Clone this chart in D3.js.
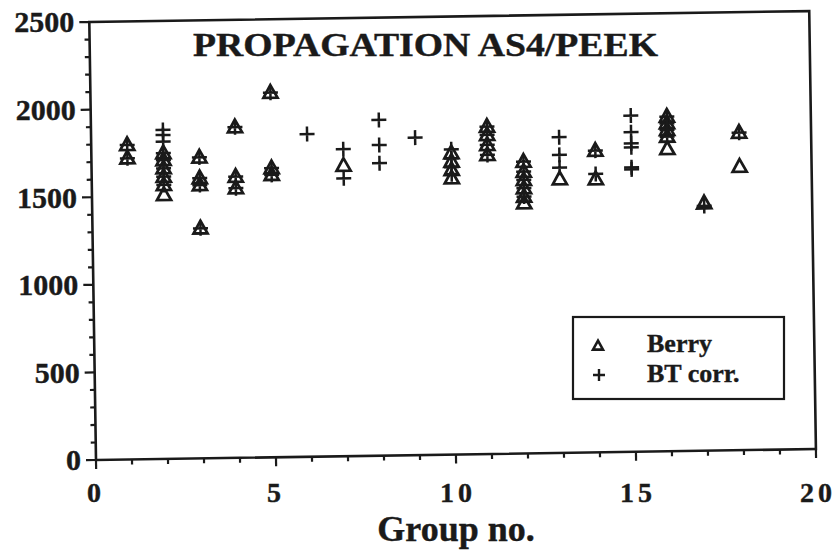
<!DOCTYPE html>
<html>
<head>
<meta charset="utf-8">
<script src="https://cdn.jsdelivr.net/npm/d3@7/dist/d3.min.js"></script>
<style>
  html, body { margin: 0; padding: 0; background: #fff; }
  svg { display: block; }
  text { font-family: "Liberation Serif", "Times New Roman", serif; font-weight: bold; fill: #1a1a1a; stroke: #1a1a1a; stroke-width: 0.4px; }
</style>
</head>
<body>
<svg id="chart" width="836" height="550"></svg>
<script>
// ---------- data ----------
const title = "PROPAGATION AS4/PEEK";
const xLabel = "Group no.";
const seriesNames = ["Berry", "BT corr."];
const xTicks = [0, 5, 10, 15, 20];
const yTicks = [0, 500, 1000, 1500, 2000, 2500];

const berryGroup = [1,1, 2,2,2,2,2,2, 3,3,3,3, 4,4,4, 5,5,5, 7, 10,10,10,10, 11,11,11,11, 12,12,12,12,12,12, 13, 14,14, 16,16,16,16,16, 17, 18,18];
const berryValue = [1795,1719, 1745,1706,1659,1611,1564,1507, 1718,1599,1560,1313, 1887,1605,1539, 2081,1650,1612, 1658, 1720,1672,1624,1577, 1868,1821,1764,1707, 1665,1608,1561,1514,1466,1428, 1562, 1722,1559, 1910,1872,1834,1796,1725, 1412, 1812,1618];

const btGroup = [1,1, 2,2,2,2,2,2,2,2, 3,3,3,3, 4,4,4, 5,5,5, 6, 7,7, 8,8,8, 9, 10,10,10,10, 11,11,11,11, 12,12,12,12,12, 13,13,13, 14,14, 15,15,15,15,15,15, 16,16,16,16, 17, 18];
const btValue = [1795,1719, 1878,1849,1811,1745,1706,1659,1611,1564, 1718,1599,1560,1313, 1887,1605,1539, 2081,1650,1612, 1842, 1752,1586, 1916,1773,1669, 1812, 1742,1690,1640,1600, 1868,1821,1764,1707, 1665,1608,1561,1514,1466, 1802,1701,1628, 1722,1589, 1919,1824,1761,1738,1624,1612, 1910,1872,1834,1796, 1397, 1812];

// ---------- layout ----------
const svg = d3.select("#chart");
const ox = 96, oy = 460;          // bottom-left corner of the plot frame
const W = 720, H = 438;
const angle = -0.875;             // slight tilt of the scanned frame (degrees)
const rad = angle * Math.PI / 180;
const ink = "#1a1a1a";

const x = d3.scaleLinear().domain([0, 20]).range([ox, ox + W]);
const y = d3.scaleLinear().domain([0, 2500]).range([oy, oy - H]);

function rot(px, py) {
  const dx = px - ox, dy = py - oy;
  return [ox + dx * Math.cos(rad) - dy * Math.sin(rad), oy + dx * Math.sin(rad) + dy * Math.cos(rad)];
}

const plot = svg.append("g").attr("transform", `rotate(${angle},${ox},${oy})`);

// frame
plot.append("rect")
  .attr("x", x(0)).attr("y", y(2500))
  .attr("width", x(20) - x(0)).attr("height", y(0) - y(2500))
  .attr("fill", "none").attr("stroke", ink).attr("stroke-width", 2.6);

// y ticks (major every 500, minor every 100)
const yMinor = d3.range(0, 2501, 100);
plot.selectAll(".ytick").data(yMinor).join("line")
  .attr("x1", x(0)).attr("x2", d => x(0) - (d % 500 === 0 ? 10 : 5))
  .attr("y1", d => y(d)).attr("y2", d => y(d))
  .attr("stroke", ink).attr("stroke-width", 2.2);

// x ticks (major every 5, minor every 1)
const xMinor = d3.range(0, 21, 1);
plot.selectAll(".xtick").data(xMinor).join("line")
  .attr("x1", d => x(d)).attr("x2", d => x(d))
  .attr("y1", y(0)).attr("y2", d => y(0) + (d % 5 === 0 ? 9 : 5))
  .attr("stroke", ink).attr("stroke-width", 2.2);

// marker generators
function triPath(cx, cy, s) {
  const h = s * 0.9;
  return `M${cx},${cy - h * 0.6}L${cx + s / 2},${cy + h * 0.4}L${cx - s / 2},${cy + h * 0.4}Z`;
}
function plusPath(cx, cy, s) {
  return `M${cx - s / 2},${cy}L${cx + s / 2},${cy}M${cx},${cy - s / 2}L${cx},${cy + s / 2}`;
}

const berry = berryGroup.map((g, i) => ({ g, v: berryValue[i] }));
const bt = btGroup.map((g, i) => ({ g, v: btValue[i] }));

plot.selectAll(".berry").data(berry).join("path")
  .attr("d", d => triPath(x(d.g), y(d.v), 14))
  .attr("fill", "none").attr("stroke", ink).attr("stroke-width", 2.8)
  .attr("stroke-linejoin", "miter");

plot.selectAll(".bt").data(bt).join("path")
  .attr("d", d => plusPath(x(d.g), y(d.v), 15))
  .attr("fill", "none").attr("stroke", ink).attr("stroke-width", 2.5);

// y tick labels
svg.selectAll(".ylab").data(yTicks).join("text")
  .attr("x", d => rot(x(0) - 15, y(d))[0])
  .attr("y", d => rot(x(0) - 15, y(d))[1])
  .attr("text-anchor", "end").attr("dy", "0.34em")
  .style("font-size", "30px")
  .text(d => d);

// x tick labels
svg.selectAll(".xlab").data(xTicks).join("text")
  .attr("x", d => rot(x(d), y(0))[0] + (d >= 10 ? 2 : 0))
  .attr("y", 502)
  .attr("text-anchor", "middle")
  .style("font-size", "28px")
  .style("letter-spacing", "4px")
  .text(d => d);

// axis title
svg.append("text")
  .attr("x", 456).attr("y", 541)
  .attr("text-anchor", "middle")
  .style("font-size", "36px")
  .text(xLabel);

// chart title
svg.append("text")
  .attr("x", 193).attr("y", 56)
  .attr("textLength", 465).attr("lengthAdjust", "spacingAndGlyphs")
  .style("font-size", "34px")
  .text(title);

// legend
const lg = svg.append("g");
lg.append("rect")
  .attr("x", 573).attr("y", 317).attr("width", 211).attr("height", 82)
  .attr("fill", "#fff").attr("stroke", ink).attr("stroke-width", 2.2);
lg.append("path").attr("d", triPath(598, 346, 10))
  .attr("fill", "none").attr("stroke", ink).attr("stroke-width", 2.6);
lg.append("path").attr("d", plusPath(599, 375, 12))
  .attr("fill", "none").attr("stroke", ink).attr("stroke-width", 2.4);
lg.append("text").attr("x", 647).attr("y", 352).style("font-size", "26px").text(seriesNames[0]);
lg.append("text").attr("x", 647).attr("y", 382).style("font-size", "26px").text(seriesNames[1]);
</script>
</body>
</html>
